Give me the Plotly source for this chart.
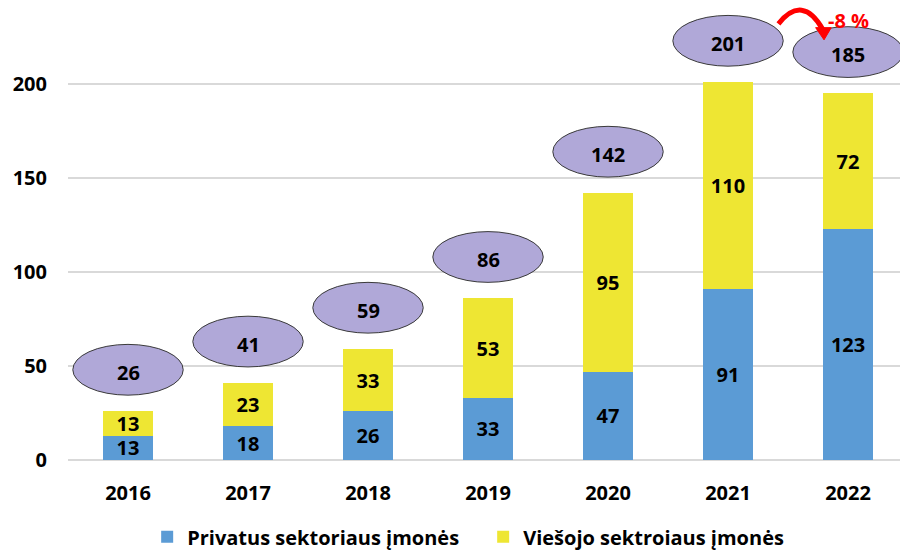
import plotly.graph_objects as go

years = ["2016", "2017", "2018", "2019", "2020", "2021", "2022"]
private = [13, 18, 26, 33, 47, 91, 123]
public = [13, 23, 33, 53, 95, 110, 72]
totals_label = [26, 41, 59, 86, 142, 201, 185]
change_label = "-8 %"
y_ticks = [0, 50, 100, 150, 200]

FONT = "Open Sans"
BLUE = "#5B9BD5"
YELLOW = "#EEE633"
ELL = "#B0A8D8"
FS = 20

xs = list(range(len(years)))

fig = go.Figure()
fig.add_trace(go.Bar(
    x=xs, y=private, name="Privatus sektoriaus įmonės",
    marker=dict(color=BLUE, line=dict(width=0)),
    text=private, textposition="inside", insidetextanchor="middle",
    textangle=0, textfont=dict(family=FONT, size=FS, color="black", weight="bold"),
    width=0.41,
))
fig.add_trace(go.Bar(
    x=xs, y=public, name="Viešojo sektroiaus įmonės",
    marker=dict(color=YELLOW, line=dict(width=0)),
    text=public, textposition="inside", insidetextanchor="middle",
    textangle=0, textfont=dict(family=FONT, size=FS, color="black", weight="bold"),
    width=0.41,
))

shapes = []
annotations = []
for i, (p, q, lab) in enumerate(zip(private, public, totals_label)):
    top = p + q
    cy = top + 22
    shapes.append(dict(type="circle", xref="x", yref="y",
                       x0=i - 0.46, x1=i + 0.46, y0=cy - 13.5, y1=cy + 13.5,
                       fillcolor=ELL, line=dict(color="#3A3A3A", width=1), layer="above"))
    annotations.append(dict(x=i, y=cy - 1.5, xref="x", yref="y", text=str(lab),
                            showarrow=False,
                            font=dict(family=FONT, size=FS, color="black", weight="bold")))

# curved red arrow between 2021 and 2022
shapes.append(dict(type="path", xref="x", yref="y",
                   path="M 5.42,232 Q 5.62,248 5.79,229",
                   line=dict(color="#FF0000", width=5), layer="above"))
shapes.append(dict(type="path", xref="x", yref="y",
                   path="M 5.73,230 L 5.86,230 L 5.80,223.5 Z",
                   fillcolor="#FF0000", line=dict(color="#FF0000", width=1), layer="above"))
annotations.append(dict(x=6.0, y=234, xref="x", yref="y", text=change_label,
                        showarrow=False,
                        font=dict(family=FONT, size=20, color="#FF0000", weight="bold")))

fig.update_layout(
    barmode="stack",
    width=900, height=553,
    margin=dict(l=68, r=0, t=0, b=93, autoexpand=False),
    plot_bgcolor="white", paper_bgcolor="white",
    shapes=shapes, annotations=annotations,
    uniformtext=dict(minsize=FS, mode="show"),
    showlegend=True,
    legend=dict(orientation="h", x=0.499, xanchor="center", y=-0.167, yanchor="middle",
                font=dict(family=FONT, size=FS, color="black", weight="bold"),
                traceorder="normal", entrywidth=291, itemwidth=30),
    xaxis=dict(tickmode="array", tickvals=xs, ticktext=years, range=[-0.5, 6.433],
               showgrid=False, zeroline=False, showline=False, automargin=False,
               tickfont=dict(family=FONT, size=FS, color="black", weight="bold"),
               ticks="", ticklabelstandoff=19),
    yaxis=dict(range=[0, 244.7], tickvals=y_ticks, showgrid=True, gridcolor="#D9D9D9",
               gridwidth=1.5, zeroline=True, zerolinecolor="#D9D9D9", zerolinewidth=1.5,
               showline=False, ticks="", automargin=False,
               tickfont=dict(family=FONT, size=FS, color="black", weight="bold"),
               ticklabelstandoff=20),
)

fig.write_html("out.html", config={"displayModeBar": False},
               post_script="document.body.style.margin='0';document.body.style.overflow='hidden';")
